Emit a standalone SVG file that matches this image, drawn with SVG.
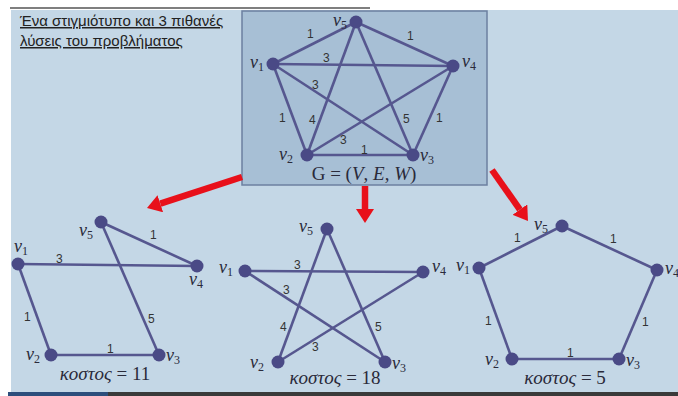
<svg xmlns="http://www.w3.org/2000/svg" width="678" height="396" viewBox="0 0 678 396">
<defs>
<style>
.e{stroke:#56578f;stroke-width:2.6;fill:none}
.n{fill:#4a4a86}
.w{font-family:"Liberation Sans",Arial,sans-serif;font-size:12px;fill:#333}
.v{font-family:"Liberation Serif","DejaVu Serif",serif;font-style:italic;font-size:18px;fill:#2a2a3a}
.s{font-style:normal;font-size:12px}
.t{font-family:"Liberation Sans",Arial,sans-serif;font-size:15px;fill:#222;text-decoration:underline}
.k{font-family:"Liberation Serif","DejaVu Serif",serif;font-size:19px;fill:#2a2a3a}
.i{font-style:italic}
.ar{stroke:#e8101a;stroke-width:6.5;fill:none}
</style>
<marker id="ah" viewBox="0 0 10 10" refX="0" refY="5" markerWidth="14" markerHeight="18" markerUnits="userSpaceOnUse" orient="auto" preserveAspectRatio="none">
<path d="M0,0 L10,5 L0,10 z" fill="#e8101a"/>
</marker>
</defs>
<rect x="0" y="0" width="678" height="396" fill="#ffffff"/>
<rect x="11" y="10" width="667" height="383" fill="#c4d7e6"/>
<line x1="10" y1="8" x2="370" y2="8" stroke="#555" stroke-width="1.5"/>
<rect x="8" y="392" width="670" height="4" fill="#3a3a3a"/>
<rect x="8" y="392" width="100" height="4" fill="#2d4e7c"/>

<g id="title">
<text class="t" x="20" y="26">Ένα στιγμιότυπο και 3 πιθανές</text>
<text class="t" x="20" y="46">λύσεις του προβλήματος</text>
</g>

<g id="graph-box">
<rect x="242" y="11" width="245" height="174" fill="#a7bfd5" stroke="#6c80a0" stroke-width="1.5"/>
</g>

<g id="connectors">
<!-- top complete graph -->
<line class="e" x1="273" y1="64" x2="356" y2="22"/>
<line class="e" x1="356" y1="22" x2="453" y2="66"/>
<line class="e" x1="273" y1="64" x2="453" y2="66"/>
<line class="e" x1="273" y1="64" x2="413" y2="155"/>
<line class="e" x1="273" y1="64" x2="307" y2="155"/>
<line class="e" x1="356" y1="22" x2="307" y2="155"/>
<line class="e" x1="356" y1="22" x2="413" y2="155"/>
<line class="e" x1="453" y1="66" x2="413" y2="155"/>
<line class="e" x1="453" y1="66" x2="307" y2="155"/>
<line class="e" x1="307" y1="155" x2="413" y2="155"/>
<!-- left solution -->
<line class="e" x1="101" y1="222" x2="197" y2="266"/>
<line class="e" x1="18" y1="264" x2="197" y2="266"/>
<line class="e" x1="18" y1="264" x2="51" y2="355"/>
<line class="e" x1="101" y1="222" x2="159" y2="355"/>
<line class="e" x1="51" y1="355" x2="159" y2="355"/>
<!-- middle solution -->
<line class="e" x1="245" y1="271" x2="423" y2="272"/>
<line class="e" x1="245" y1="271" x2="385" y2="362"/>
<line class="e" x1="327" y1="229" x2="278" y2="362"/>
<line class="e" x1="327" y1="229" x2="385" y2="362"/>
<line class="e" x1="423" y1="272" x2="278" y2="362"/>
<!-- right solution -->
<line class="e" x1="479" y1="268" x2="562" y2="226"/>
<line class="e" x1="562" y1="226" x2="657" y2="270"/>
<line class="e" x1="479" y1="268" x2="512" y2="359"/>
<line class="e" x1="657" y1="270" x2="619" y2="359"/>
<line class="e" x1="512" y1="359" x2="619" y2="359"/>
<!-- red arrows -->
<line class="ar" x1="242" y1="177" x2="160.3" y2="203.7" marker-end="url(#ah)"/>
<line class="ar" x1="365" y1="186" x2="365" y2="209" marker-end="url(#ah)"/>
<line class="ar" x1="492" y1="170" x2="519.9" y2="209.6" marker-end="url(#ah)"/>
</g>

<g id="top-graph">
<circle class="n" cx="356" cy="22" r="6.5"/>
<circle class="n" cx="273" cy="64" r="6.5"/>
<circle class="n" cx="453" cy="66" r="6.5"/>
<circle class="n" cx="307" cy="155" r="6.5"/>
<circle class="n" cx="413" cy="155" r="6.5"/>
<text class="v" x="333" y="26">v<tspan class="s" dy="3">5</tspan></text>
<text class="v" x="250" y="68">v<tspan class="s" dy="3">1</tspan></text>
<text class="v" x="462" y="67">v<tspan class="s" dy="3">4</tspan></text>
<text class="v" x="279" y="160">v<tspan class="s" dy="3">2</tspan></text>
<text class="v" x="420" y="161">v<tspan class="s" dy="3">3</tspan></text>
<text class="w" x="307" y="38">1</text>
<text class="w" x="407" y="40">1</text>
<text class="w" x="323" y="62">3</text>
<text class="w" x="312" y="89">3</text>
<text class="w" x="279" y="122">1</text>
<text class="w" x="309" y="124">4</text>
<text class="w" x="403" y="123">5</text>
<text class="w" x="436" y="122">1</text>
<text class="w" x="340" y="144">3</text>
<text class="w" x="361" y="154">1</text>
<text class="k" x="364" y="180" text-anchor="middle" font-size="18">G = (<tspan class="i">V</tspan>, <tspan class="i">E</tspan>, <tspan class="i">W</tspan>)</text>
</g>

<g id="solution-1">
<circle class="n" cx="101" cy="222" r="6.5"/>
<circle class="n" cx="18" cy="264" r="6.5"/>
<circle class="n" cx="197" cy="266" r="6.5"/>
<circle class="n" cx="51" cy="355" r="6.5"/>
<circle class="n" cx="159" cy="355" r="6.5"/>
<text class="v" x="79" y="236">v<tspan class="s" dy="3">5</tspan></text>
<text class="v" x="14" y="252">v<tspan class="s" dy="3">1</tspan></text>
<text class="v" x="189" y="285">v<tspan class="s" dy="3">4</tspan></text>
<text class="v" x="26" y="360">v<tspan class="s" dy="3">2</tspan></text>
<text class="v" x="166" y="361">v<tspan class="s" dy="3">3</tspan></text>
<text class="w" x="150" y="239">1</text>
<text class="w" x="56" y="263">3</text>
<text class="w" x="24" y="321">1</text>
<text class="w" x="148" y="323">5</text>
<text class="w" x="107" y="353">1</text>
<text class="k" x="105" y="380" text-anchor="middle"><tspan class="i">κοστος</tspan> = 11</text>
</g>

<g id="solution-2">
<circle class="n" cx="327" cy="229" r="6.5"/>
<circle class="n" cx="245" cy="271" r="6.5"/>
<circle class="n" cx="423" cy="272" r="6.5"/>
<circle class="n" cx="278" cy="362" r="6.5"/>
<circle class="n" cx="385" cy="362" r="6.5"/>
<text class="v" x="299" y="232">v<tspan class="s" dy="3">5</tspan></text>
<text class="v" x="219" y="273">v<tspan class="s" dy="3">1</tspan></text>
<text class="v" x="432" y="272">v<tspan class="s" dy="3">4</tspan></text>
<text class="v" x="250" y="368">v<tspan class="s" dy="3">2</tspan></text>
<text class="v" x="392" y="369">v<tspan class="s" dy="3">3</tspan></text>
<text class="w" x="294" y="269">3</text>
<text class="w" x="283" y="294">3</text>
<text class="w" x="280" y="331">4</text>
<text class="w" x="375" y="331">5</text>
<text class="w" x="312" y="351">3</text>
<text class="k" x="335" y="384" text-anchor="middle"><tspan class="i">κοστος</tspan> = 18</text>
</g>

<g id="solution-3">
<circle class="n" cx="562" cy="226" r="6.5"/>
<circle class="n" cx="479" cy="268" r="6.5"/>
<circle class="n" cx="657" cy="270" r="6.5"/>
<circle class="n" cx="512" cy="359" r="6.5"/>
<circle class="n" cx="619" cy="359" r="6.5"/>
<text class="v" x="534" y="230">v<tspan class="s" dy="3">5</tspan></text>
<text class="v" x="456" y="271">v<tspan class="s" dy="3">1</tspan></text>
<text class="v" x="665" y="274">v<tspan class="s" dy="3">4</tspan></text>
<text class="v" x="485" y="365">v<tspan class="s" dy="3">2</tspan></text>
<text class="v" x="626" y="366">v<tspan class="s" dy="3">3</tspan></text>
<text class="w" x="514" y="242">1</text>
<text class="w" x="610" y="243">1</text>
<text class="w" x="485" y="325">1</text>
<text class="w" x="642" y="326">1</text>
<text class="w" x="567" y="357">1</text>
<text class="k" x="565" y="384" text-anchor="middle"><tspan class="i">κοστος</tspan> = 5</text>
</g>
</svg>
